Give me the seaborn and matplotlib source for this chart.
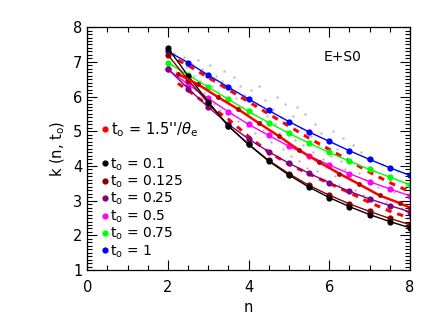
import matplotlib
matplotlib.use("Agg")
import matplotlib.pyplot as plt
from matplotlib.lines import Line2D
from matplotlib.ticker import MultipleLocator
import seaborn as sns
import pandas as pd

# n grid for the model curves
n_grid = [2.0, 2.5, 3.0, 3.5, 4.0, 4.5, 5.0, 5.5, 6.0, 6.5, 7.0, 7.5, 8.0]

k_t010 = [7.40, 6.60, 5.85, 5.15, 4.62, 4.14, 3.74, 3.39, 3.09, 2.83, 2.60, 2.40, 2.22]
k_t0125 = [7.20, 6.48, 5.82, 5.15, 4.63, 4.16, 3.78, 3.44, 3.16, 2.91, 2.69, 2.49, 2.31]
k_t025 = [6.80, 6.23, 5.70, 5.20, 4.78, 4.41, 4.08, 3.79, 3.52, 3.27, 3.05, 2.86, 2.68]
k_t050 = [6.78, 6.35, 5.95, 5.56, 5.20, 4.88, 4.57, 4.29, 4.03, 3.78, 3.55, 3.34, 3.14]
k_t075 = [6.98, 6.62, 6.27, 5.92, 5.57, 5.25, 4.94, 4.66, 4.39, 4.14, 3.90, 3.68, 3.46]
k_t100 = [7.30, 6.98, 6.62, 6.27, 5.93, 5.60, 5.28, 4.98, 4.71, 4.44, 4.19, 3.95, 3.73]

# t0 = 1.5''/theta_e : median relation
n_med = [2.25, 2.75, 3.25, 3.75, 4.25, 4.75, 5.25, 5.75, 6.25, 6.75, 7.25, 7.75, 8.0]
k_med = [6.65, 6.35, 5.98, 5.63, 5.24, 4.86, 4.46, 4.11, 3.78, 3.47, 3.15, 2.93, 2.80]

# dashed envelopes
n_env = [2.25, 2.5, 3.0, 3.5, 4.0, 4.5, 5.0, 5.5, 6.0, 6.5, 7.0, 7.5, 8.0]
k_up = [7.05, 6.90, 6.55, 6.20, 5.85, 5.50, 5.15, 4.80, 4.48, 4.15, 3.82, 3.52, 3.26]
k_lo = [6.38, 6.18, 5.75, 5.35, 4.85, 4.40, 4.05, 3.77, 3.50, 3.23, 2.95, 2.70, 2.50]

# galaxy sample (grey cloud)
gal_n = [2.05, 2.1, 2.15, 2.2, 2.3, 2.35, 2.4, 2.45, 2.55, 2.6, 2.65, 2.7, 2.75, 2.8, 2.85,
         2.9, 2.95, 3.05, 3.1, 3.15, 3.2, 3.25, 3.3, 3.35, 3.4, 3.45, 3.55, 3.6, 3.65, 3.7,
         3.75, 3.8, 3.85, 3.9, 3.95, 4.05, 4.1, 4.15, 4.2, 4.25, 4.3, 4.35, 4.4, 4.45, 4.55,
         4.6, 4.65, 4.7, 4.75, 4.8, 4.85, 4.9, 4.95, 5.05, 5.1, 5.15, 5.2, 5.25, 5.3, 5.35,
         5.4, 5.45, 5.55, 5.6, 5.65, 5.7, 5.75, 5.8, 5.85, 5.9, 5.95, 6.05, 6.1, 6.15, 6.2,
         6.25, 6.3, 6.35, 6.4, 6.45, 6.55, 6.6, 6.65, 6.7, 6.75, 6.8, 6.85, 6.9, 6.95, 7.05,
         7.1, 7.2, 7.3, 7.4, 7.5, 7.6, 7.7, 7.8, 7.9]
gal_k = [7.2, 6.9, 7.25, 6.7, 7.0, 6.5, 7.15, 6.85, 6.4, 6.95, 6.6, 6.2, 7.05, 6.45, 6.8,
         6.1, 6.55, 6.9, 6.3, 5.8, 6.6, 6.05, 5.6, 6.45, 6.75, 5.9, 6.2, 5.5, 6.55, 5.95,
         5.3, 6.3, 5.7, 6.05, 5.15, 6.2, 5.5, 4.95, 5.8, 6.3, 5.3, 5.05, 5.9, 5.45, 4.7,
         5.65, 5.2, 6.0, 4.95, 5.4, 4.5, 5.8, 5.0, 4.3, 5.45, 4.75, 5.7, 4.15, 5.1, 4.6,
         5.5, 3.95, 4.85, 4.4, 5.2, 3.85, 4.6, 4.95, 4.2, 3.6, 4.75, 4.3, 5.0, 3.7, 4.5,
         3.45, 4.15, 4.8, 3.9, 4.4, 3.6, 4.6, 3.3, 4.05, 3.8, 4.4, 3.15, 3.6, 4.2, 3.0,
         3.85, 3.4, 4.05, 2.95, 3.6, 3.25, 3.85, 2.8, 3.45]

series = [
    ("0.1", k_t010, "black"),
    ("0.125", k_t0125, "#8b0000"),
    ("0.25", k_t025, "#800080"),
    ("0.5", k_t050, "#ff00ff"),
    ("0.75", k_t075, "#00ff00"),
    ("1", k_t100, "#0000ff"),
]

fig, ax = plt.subplots(figsize=(4.36, 3.27), dpi=100)
fig.subplots_adjust(left=0.2, right=0.94, bottom=0.174, top=0.917)

sns.scatterplot(x=gal_n, y=gal_k, color="#bdbdbd", s=3, linewidth=0, ax=ax)

sns.lineplot(x=n_env, y=k_up, color="red", lw=2.2, ax=ax, linestyle=(0, (2, 2)))
sns.lineplot(x=n_env, y=k_lo, color="red", lw=2.2, ax=ax, linestyle=(0, (2, 2)))

for lab, k, c in series[::-1]:
    df = pd.DataFrame({"n": n_grid, "k": k})
    sns.lineplot(data=df, x="n", y="k", color=c, lw=1, marker="o", markersize=4.5,
                 markeredgewidth=0, ax=ax)

sns.lineplot(x=n_med, y=k_med, color="red", lw=1.8, marker="o", markersize=3.5,
             markerfacecolor="#b00000", markeredgewidth=0, ax=ax)

ax.set_xlim(0, 8)
ax.set_ylim(1, 8)
ax.xaxis.set_major_locator(MultipleLocator(2))
ax.xaxis.set_minor_locator(MultipleLocator(0.5))
ax.yaxis.set_major_locator(MultipleLocator(1))
ax.yaxis.set_minor_locator(MultipleLocator(0.1))
ax.tick_params(which="both", direction="in", top=True, right=True, labelsize=10.5,
               width=0.8)
ax.tick_params(axis="x", pad=7)
ax.tick_params(which="major", length=7)
ax.tick_params(which="minor", length=3.5)
for s in ax.spines.values():
    s.set_linewidth(0.9)
ax.set_xlabel("n", fontsize=10.5)
ax.set_ylabel("k (n, t$_\\mathrm{o}$)", fontsize=10.5)
ax.text(6.8, 7.13, "E+S0", fontsize=10, ha="right", va="center")

def dot(c):
    return Line2D([], [], color=c, marker="o", linestyle="", markersize=4.5,
                  markeredgewidth=0)

leg1 = ax.legend([dot("red")], ["t$_\\mathrm{o}$ = 1.5''/$\\theta_\\mathrm{e}$"],
                 loc="center left", bbox_to_anchor=(0.38, 5.05),
                 bbox_transform=ax.transData, frameon=False, fontsize=10.5,
                 handlelength=0.4, handletextpad=0.15, borderpad=0, borderaxespad=0)
ax.add_artist(leg1)
ax.legend([dot(c) for _, _, c in series],
          ["t$_\\mathrm{o}$ = " + lab for lab, _, _ in series],
          loc="upper left", bbox_to_anchor=(0.38, 4.28),
          bbox_transform=ax.transData, frameon=False, fontsize=10,
          handlelength=0.4, handletextpad=0.15, labelspacing=0.07,
          borderpad=0, borderaxespad=0)

fig.savefig("out.png", dpi=100)
